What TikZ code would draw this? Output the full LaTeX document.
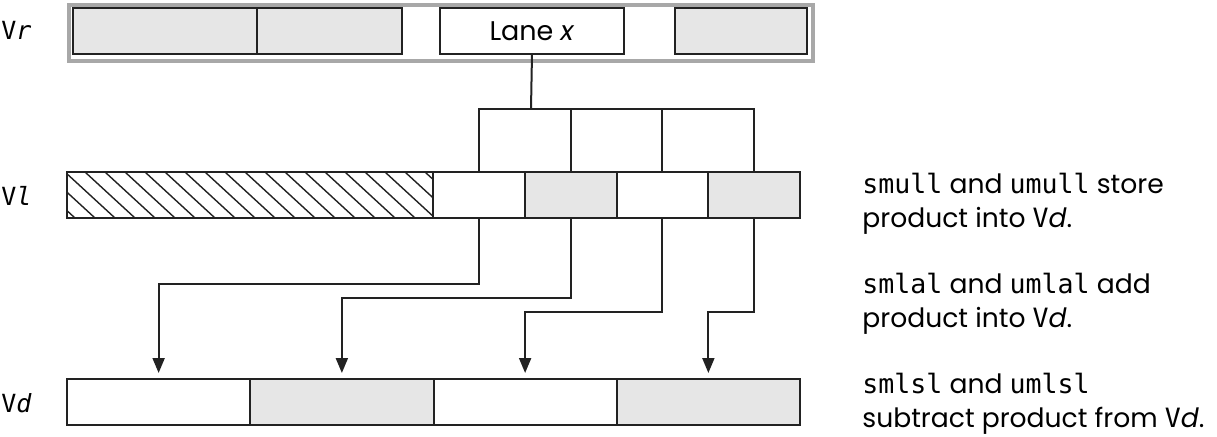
\documentclass[tikz,border=0pt]{standalone}
\usepackage{fontspec}
\setmainfont{Poppins}
\setmonofont{DejaVu Sans Mono}
\usepackage{xcolor}
\usetikzlibrary{positioning,arrows.meta,calc}
\definecolor{lanegray}{HTML}{E6E6E6}
\definecolor{framegray}{HTML}{A8A8A8}
\definecolor{inkgray}{HTML}{222222}
\tikzset{
box/.style={draw=inkgray,line width=1pt,inner sep=0pt,outer sep=0pt,anchor=north west,minimum height=23pt},
lbl/.style={anchor=west,inner sep=0pt,font=\ttfamily\fontsize{12.5}{14}\selectfont},
note/.style={anchor=north west,inner sep=0pt,align=left,font=\fontsize{13.3}{17}\selectfont},
wire/.style={draw=inkgray,line width=1pt},
arrow/.style={wire,-{Triangle[length=7.5pt,width=6pt]},shorten >=3pt}
}
\begin{document}
\begin{tikzpicture}[x=0.5pt,y=-0.5pt]
\useasboundingbox (0,0) rectangle (1217,436);
% source register Vr
\node[draw=framegray,line width=2pt,inner sep=0pt,anchor=north west,minimum width=372pt,minimum height=28pt](vr) at (67,2.5){};
\node[box,minimum width=92pt,fill=lanegray](r1) at (73,8){};
\node[box,minimum width=72.5pt,fill=lanegray](r2) at (257,8){};
\node[box,minimum width=92pt,fill=white,font=\fontsize{13.5}{17}\selectfont](lane) at (440,8){Lane \textit{x}};
\node[box,minimum width=66pt,fill=lanegray](r4) at (675,8){};
% register Vl
\node[box,minimum width=183pt,path picture={
  \foreach \k in {-3,...,18}
    \draw[line width=0.7pt] ($(path picture bounding box.north west)+(18+20*\k,0)$) -- ++(50,46);
}](vlh) at (67,172){};
\foreach \i/\c in {1/white,2/lanegray,3/white,4/lanegray}
  \node[box,minimum width=45.875pt,fill=\c](l\i) at ({433+91.75*(\i-1)},172){};
% destination register Vd
\foreach \i/\c in {1/white,2/lanegray,3/white,4/lanegray}
  \node[box,minimum width=91.625pt,fill=\c](d\i) at ({67+183.25*(\i-1)},379){};
% labels
\node[lbl](vrlbl) at (1,30){V\textit{r}};
\node[lbl](vllbl) at (1,196){V\textit{l}};
\node[lbl](vdlbl) at (1,403){V\textit{d}};
% lane x broadcast
\coordinate (split) at (531,109);
\draw[wire](lane.south)--(split);
\foreach \b in {l1,l2,l3,l4} \draw[wire](\b.north)|-(split);
\foreach \s/\t/\dy in {l1/d1/66,l2/d2/80,l3/d3/94,l4/d4/94}
  \draw[arrow](\s.south)--++(0,\dy)-|(\t.north);
% notes
\node[note](n1) at (862,173){\texttt{smull} and \texttt{umull} store\\product into \texttt{V}\textit{d}.};
\node[note](n2) at (862,273){\texttt{smlal} and \texttt{umlal} add\\product into \texttt{V}\textit{d}.};
\node[note](n3) at (862,373){\texttt{smlsl} and \texttt{umlsl}\\subtract product from \texttt{V}\textit{d}.};
\end{tikzpicture}
\end{document}
